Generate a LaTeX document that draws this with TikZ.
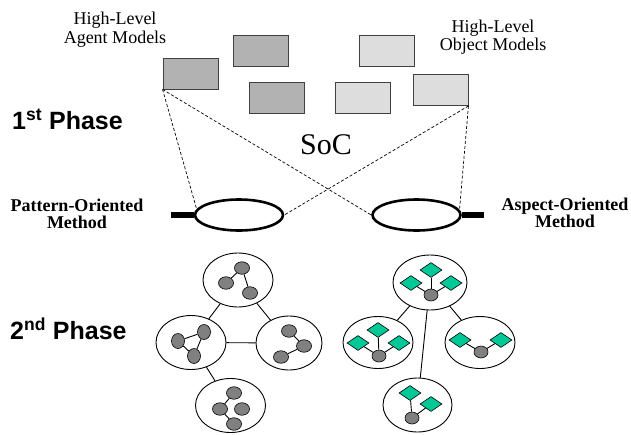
\documentclass[tikz,border=0pt]{standalone}
\usepackage{fontspec}
\setmainfont{Liberation Serif}
\newfontfamily\phasefont{Liberation Sans}
\usetikzlibrary{shapes.geometric}
\definecolor{agentgrey}{HTML}{B2B2B2}
\definecolor{objgrey}{HTML}{DDDDDD}
\definecolor{dotgrey}{HTML}{808080}
\definecolor{aspectgreen}{HTML}{00C896}
\tikzset{
  agentbox/.style={draw=black!75, line width=0.9pt, fill=agentgrey, minimum width=55, minimum height=31, inner sep=0},
  objbox/.style={draw=black!75, line width=0.9pt, fill=objgrey, minimum width=55, minimum height=31, inner sep=0},
  method/.style={draw, ellipse, line width=2.6pt, minimum width=88, minimum height=31, inner sep=0},
  bar/.style={line width=6pt},
  link/.style={dashed, line width=0.7pt, dash pattern=on 3pt off 2pt},
  cluster/.style={draw, ellipse, line width=0.9pt, minimum width=70, minimum height=54, inner sep=0},
  dot/.style={draw, ellipse, fill=dotgrey, line width=0.6pt, minimum width=15, minimum height=12.5, inner sep=0},
  aspect/.style={draw, diamond, fill=aspectgreen, line width=0.6pt, minimum width=22, minimum height=15, inner sep=0},
  edge/.style={line width=0.9pt},
  lab/.style={font=\fontsize{18}{18.5}\selectfont, align=center, inner sep=0},
  methodlab/.style={font=\bfseries\fontsize{18}{17.5}\selectfont, align=center, inner sep=0},
  phase/.style={font=\phasefont\bfseries\fontsize{25}{27}\selectfont, anchor=west, inner sep=0},
}
\begin{document}
\begin{tikzpicture}[x=1pt, y=-1pt]
\useasboundingbox (0,0) rectangle (631,434);

% 1st phase: high-level models
\node[lab] (agentlab) at (115,29.5) {High-Level\\Agent Models};
\node[lab] (objlab) at (493,37) {High-Level\\Object Models};

\node[agentbox] (a1) at (190.5,73.5) {};
\node[agentbox] (a2) at (261,51) {};
\node[agentbox] (a3) at (276.5,97.5) {};

\node[objbox] (o1) at (386.5,51) {};
\node[objbox] (o2) at (362.5,97.5) {};
\node[objbox] (o3) at (440.5,90) {};

\node[phase] (ph1) at (12,119) {1\textsuperscript{st} Phase};
\node[font=\fontsize{30}{34}\selectfont, inner sep=0] (soc) at (326,145) {SoC};

% methods
\node[method] (pom) at (239,215) {};
\node[method] (aom) at (416.5,215) {};
\coordinate (pbar) at (171,215);
\coordinate (abar) at (484,215);
\draw[bar] (pom.west) -- (pbar);
\draw[bar] (aom.east) -- (abar);

\node[methodlab] (pomlab) at (77,214) {Pattern-Oriented\\Method};
\node[methodlab] (aomlab) at (565,213) {Aspect-Oriented\\Method};

% separation of concerns
\draw[link] (a1.south west) -- (pom.172);
\draw[link] (a1.south west) -- (aom.west);
\draw[link] (o3.south east) -- (pom.east);
\draw[link] (o3.south east) -- (aom.7);

% 2nd phase
\node[phase] (ph2) at (10,329) {2\textsuperscript{nd} Phase};

% pattern-oriented clusters
\node[cluster] (lt) at (238,280) {};
\node[cluster] (ll) at (191,342.5) {};
\node[cluster, minimum width=66] (lr) at (289,343) {};
\node[cluster] (lb) at (230.5,405.5) {};
\draw[edge] (lt) -- (ll);
\draw[edge] (lt) -- (lr);
\draw[edge] (ll) -- (lr);
\draw[edge] (ll) -- (lb);

\node[dot] (lt1) at (226,283) {};
\node[dot] (lt2) at (242,268) {};
\node[dot] (lt3) at (250,293) {};
\draw[edge] (lt2) -- (lt1);
\draw[edge] (lt2) -- (lt3);

\node[dot, minimum width=13, minimum height=15] (ll1) at (178,341) {};
\node[dot, minimum width=13, minimum height=15] (ll2) at (204,332) {};
\node[dot, minimum width=13, minimum height=15] (ll3) at (194,356) {};
\draw[edge] (ll1) -- (ll2);
\draw[edge] (ll2) -- (ll3);
\draw[edge] (ll1) -- (ll3);

\node[dot] (lr1) at (289,331) {};
\node[dot] (lr2) at (304,346) {};
\node[dot] (lr3) at (281,357) {};
\draw[edge] (lr1) -- (lr2);
\draw[edge] (lr2) -- (lr3);

\node[dot] (lb1) at (234,393) {};
\node[dot] (lb2) at (220,409) {};
\node[dot] (lb3) at (242,409) {};
\node[dot] (lb4) at (234,424) {};
\draw[edge] (lb1) -- (lb2);
\draw[edge] (lb2) -- (lb4);

% aspect-oriented clusters
\node[cluster, minimum width=74, minimum height=55] (rt) at (430,282.5) {};
\node[cluster, minimum height=52] (rl) at (378,342.5) {};
\node[cluster, minimum height=52] (rr) at (480,342.5) {};
\node[cluster, minimum width=69] (rb) at (417.5,405) {};
\draw[edge] (rt) -- (rl);
\draw[edge] (rt) -- (rr);
\draw[edge] (rt) -- (rb);

\node[dot, minimum width=14, minimum height=12] (rtc) at (431,295) {};
\node[aspect] (rt1) at (431,270) {};
\node[aspect] (rt2) at (411,283) {};
\node[aspect] (rt3) at (451,283) {};
\draw[edge] (rt1) -- (rtc);
\draw[edge] (rt2) -- (rtc);
\draw[edge] (rt3) -- (rtc);

\node[dot, minimum width=14, minimum height=12] (rlc) at (379,356) {};
\node[aspect] (rl1) at (378,330) {};
\node[aspect] (rl2) at (358,343) {};
\node[aspect] (rl3) at (399,343) {};
\draw[edge] (rl1) -- (rlc);
\draw[edge] (rl2) -- (rlc);
\draw[edge] (rl3) -- (rlc);

\node[dot, minimum width=14, minimum height=12] (rrc) at (481,352) {};
\node[aspect] (rr1) at (460,340) {};
\node[aspect] (rr2) at (501,340) {};
\draw[edge] (rr1) -- (rrc);
\draw[edge] (rr2) -- (rrc);

\node[dot, minimum width=14, minimum height=12] (rbc) at (412,418) {};
\node[aspect] (rb1) at (410,393) {};
\node[aspect] (rb2) at (431,404) {};
\draw[edge] (rb1) -- (rbc);
\draw[edge] (rb2) -- (rbc);
\end{tikzpicture}
\end{document}
